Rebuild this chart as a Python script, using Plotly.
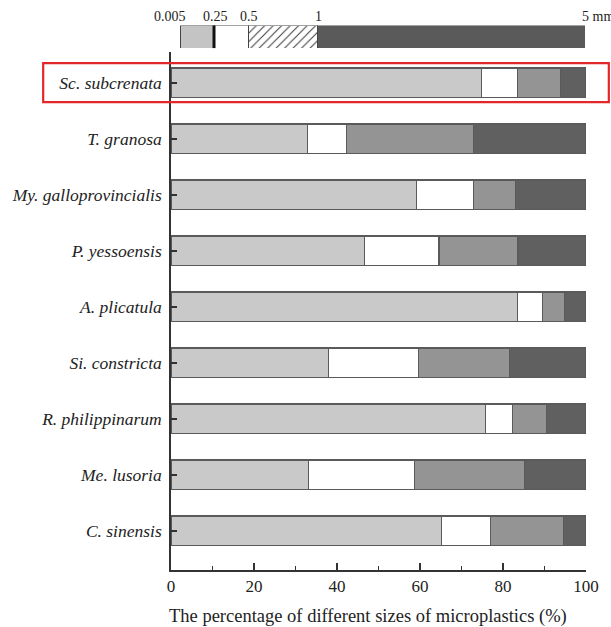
import plotly.graph_objects as go

# Bivalve species (top to bottom)
species = ["Sc. subcrenata", "T. granosa", "My. galloprovincialis", "P. yessoensis",
           "A. plicatula", "Si. constricta", "R. philippinarum", "Me. lusoria", "C. sinensis"]

# Percentage of microplastics in each size class (%)
pct_005_025 = [74.8, 32.8, 59.1, 46.7, 83.5, 38.0, 75.8, 33.2, 65.2]
pct_025_05 = [8.6, 9.4, 13.7, 17.9, 6.0, 21.6, 6.4, 25.4, 11.8]
pct_05_1 = [10.4, 30.6, 10.3, 19.0, 5.4, 21.9, 8.3, 26.6, 17.5]
pct_1_5 = [6.2, 27.2, 16.9, 16.4, 5.1, 18.5, 9.5, 14.8, 5.5]

size_classes = ["0.005-0.25 mm", "0.25-0.5 mm", "0.5-1 mm", "1-5 mm"]
size_edge_labels = ["0.005", "0.25", "0.5", "1", "5 mm"]
x_tick_values = [0, 20, 40, 60, 80, 100]
x_title = "The percentage of different sizes of microplastics (%)"

# styling
FONT = "Liberation Serif"
bar_colors = ["#c9c9ca", "#ffffff", "#949494", "#606060"]
key_colors = ["#c4c4c4", "#ffffff", "#ffffff", "#5a5a5a"]
key_patterns = ["", "", "/", ""]
key_widths = [34, 34, 69, 268]  # drawn widths of the size-scale key boxes
edge_color = "#5a5a5a"

fig = go.Figure()

series = [pct_005_025, pct_025_05, pct_05_1, pct_1_5]
for name, vals, col in zip(size_classes, series, bar_colors):
    fig.add_trace(go.Bar(
        x=vals, y=species, orientation="h", name=name,
        marker=dict(color=col, line=dict(color=edge_color, width=1.2)),
        width=0.53, showlegend=False,
    ))

# size-scale key across the top
for name, w, col, pat in zip(size_classes, key_widths, key_colors, key_patterns):
    fig.add_trace(go.Bar(
        x=[w], y=[0], orientation="h", name=name, xaxis="x2", yaxis="y2",
        width=1, showlegend=False,
        marker=dict(color=col, line=dict(color="#444", width=1),
                    pattern=dict(shape=pat, fgcolor="#333", bgcolor=col,
                                 size=6, solidity=0.16, fillmode="replace")),
    ))

edges = [0]
for w in key_widths:
    edges.append(edges[-1] + w)

key_font = dict(family=FONT, size=14, color="#222")
annotations = []
for i, (lab, ex) in enumerate(zip(size_edge_labels, edges)):
    if i == 0:
        annotations.append(dict(x=ex, y=1, xref="x2", yref="y2 domain", text=lab,
                                showarrow=False, xanchor="center", yanchor="bottom",
                                xshift=-10, font=key_font))
    elif i == len(edges) - 1:
        annotations.append(dict(x=ex, y=1, xref="x2", yref="y2 domain", text=lab,
                                showarrow=False, xanchor="left", yanchor="bottom",
                                xshift=-5, font=key_font))
    else:
        annotations.append(dict(x=ex, y=1, xref="x2", yref="y2 domain", text=lab,
                                showarrow=False, xanchor="center", yanchor="bottom",
                                xshift=1, font=key_font))

# x-axis title, placed below the tick labels
annotations.append(dict(x=0.475, y=0, xref="paper", yref="paper", text=x_title,
                        showarrow=False, xanchor="center", yanchor="middle", yshift=-46,
                        font=dict(family=FONT, size=18.5, color="#222")))

shapes = [
    # heavy divider between the first two key boxes
    dict(type="line", xref="x2", yref="y2 domain", x0=edges[1], x1=edges[1], y0=0, y1=1,
         line=dict(color="#111", width=3)),
    # highlight frame around the first species
    dict(type="rect", xref="paper", yref="y", x0=-0.308, x1=1.055, y0=-0.35, y1=0.345,
         line=dict(color="#e3262a", width=2.2), fillcolor="rgba(0,0,0,0)"),
]

fig.update_layout(
    width=611, height=627,
    margin=dict(l=171, r=25, t=10, b=57),
    barmode="stack",
    paper_bgcolor="white", plot_bgcolor="white",
    font=dict(family=FONT, size=16, color="#222"),
    annotations=annotations,
    shapes=shapes,
    xaxis=dict(
        domain=[0, 1], range=[0, 100], anchor="y", automargin=False,
        tickvals=x_tick_values, ticks="inside", ticklen=7, tickwidth=1.5, tickcolor="#333",
        minor=dict(dtick=10, ticks="inside", ticklen=4, tickwidth=1.2, tickcolor="#333"),
        showline=True, linecolor="#333", linewidth=1.5,
        showgrid=False, zeroline=False,
        tickfont=dict(family=FONT, size=17, color="#222"),
    ),
    yaxis=dict(
        domain=[0, 0.925], anchor="x", automargin=False,
        categoryorder="array", categoryarray=species,
        range=[8.7, -0.55],
        ticks="inside", ticklen=6, tickwidth=1.5, tickcolor="#333",
        showline=True, linecolor="#333", linewidth=1.5,
        showgrid=False, zeroline=False,
        tickfont=dict(family=FONT, size=17.5, color="#222", style="italic"),
        ticklabelstandoff=4,
    ),
    xaxis2=dict(domain=[0.0217, 0.9976], range=[0, sum(key_widths)], anchor="y2",
                visible=False, fixedrange=True),
    yaxis2=dict(domain=[0.932, 0.9723], range=[-0.5, 0.5], anchor="x2",
                visible=False, fixedrange=True),
)

fig.write_html("out.html")
